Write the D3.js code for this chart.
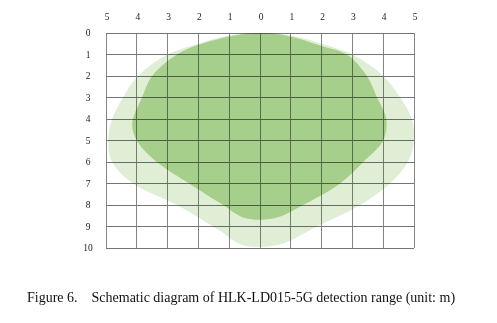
<!DOCTYPE html>
<html>
<head>
<meta charset="utf-8">
<script src="https://cdn.jsdelivr.net/npm/d3@7"></script>
<style>
  html, body { margin: 0; padding: 0; background: #fff; }
  svg { display: block; }
  .tick-label { font-family: "Liberation Serif", "DejaVu Serif", serif; font-size: 9.5px; fill: #222; }
  .caption { font-family: "Liberation Serif", "DejaVu Serif", serif; font-size: 14px; fill: #111; }
</style>
</head>
<body>
<div id="chart"></div>
<script>
// ── Data (metres; x: left/right of sensor, y: distance in front) ──
const xTicks = [-5, -4, -3, -2, -1, 0, 1, 2, 3, 4, 5];
const yTicks = [0, 1, 2, 3, 4, 5, 6, 7, 8, 9, 10];

// outer (light) detection boundary, clockwise from the top
const outerX = [0, 1, 2, 3, 4, 4.55, 4.93, 5, 4.8, 4.22, 3.25, 1.85, 0.6, -0.6, -1.3, -2.7, -4.12, -4.8, -4.93, -4.8, -4.45, -3.96, -3.0, -2, -1];
const outerY = [0, 0.12, 0.5, 1.0, 2, 3, 4, 5, 6, 7, 8, 9, 9.85, 9.85, 9.2, 8, 7, 6, 5, 4, 3, 2, 1, 0.5, 0.12];

// inner (dark) detection boundary
const innerX = [0.4, 1, 2, 2.82, 3.47, 3.8, 4.1, 4.0, 3.35, 2.6, 1.4, 0.5, -0.5, -1.2, -2.3, -3.35, -4.0, -4.15, -3.83, -3.5, -2.7, -2, -1, -0.4];
const innerY = [0.02, 0.16, 0.6, 1, 2, 3, 4, 5, 6, 7, 8, 8.6, 8.6, 8, 7, 6, 5, 4.2, 3, 2, 1, 0.55, 0.16, 0.02];

const CAPTION = "Figure 6.    Schematic diagram of HLK-LD015-5G detection range (unit: m)";

// ── Layout ──
const W = 497, H = 323;
const svg = d3.select("#chart").append("svg").attr("width", W).attr("height", H);

const x = d3.scaleLinear().domain([-5, 5]).range([106, 414]);
const y = d3.scaleLinear().domain([0, 10]).range([33, 248]);

const shape = d3.line()
  .x(d => x(d[0]))
  .y(d => y(d[1]))
  .curve(d3.curveCatmullRomClosed.alpha(0.5));

svg.append("path")
  .attr("d", shape(outerX.map((v, i) => [v, outerY[i]])))
  .attr("fill", "#e0eed6");

svg.append("path")
  .attr("d", shape(innerX.map((v, i) => [v, innerY[i]])))
  .attr("fill", "#a6cf8b");

// grid on top, multiplied so it darkens over the green
const grid = svg.append("g").style("mix-blend-mode", "multiply");
grid.selectAll(".vline").data(xTicks).join("line")
  .attr("x1", d => x(d)).attr("x2", d => x(d))
  .attr("y1", y(0)).attr("y2", y(10))
  .attr("stroke", "#858585").attr("stroke-width", 1)
  .attr("shape-rendering", "crispEdges");
grid.selectAll(".hline").data(yTicks).join("line")
  .attr("x1", x(-5)).attr("x2", x(5))
  .attr("y1", d => y(d)).attr("y2", d => y(d))
  .attr("stroke", "#757575").attr("stroke-width", 1)
  .attr("shape-rendering", "crispEdges");

// tick labels (absolute metres on top, distance on the left)
svg.selectAll(".xl").data(xTicks).join("text")
  .attr("class", "tick-label")
  .attr("x", d => x(d) + 1).attr("y", 20)
  .attr("text-anchor", "middle")
  .text(d => Math.abs(d));

svg.selectAll(".yl").data(yTicks).join("text")
  .attr("class", "tick-label")
  .attr("x", 88).attr("y", d => y(d) + 3)
  .attr("text-anchor", "middle")
  .text(d => d);

svg.append("text")
  .attr("class", "caption")
  .attr("x", 27).attr("y", 302)
  .attr("xml:space", "preserve")
  .text(CAPTION);
</script>
</body>
</html>
